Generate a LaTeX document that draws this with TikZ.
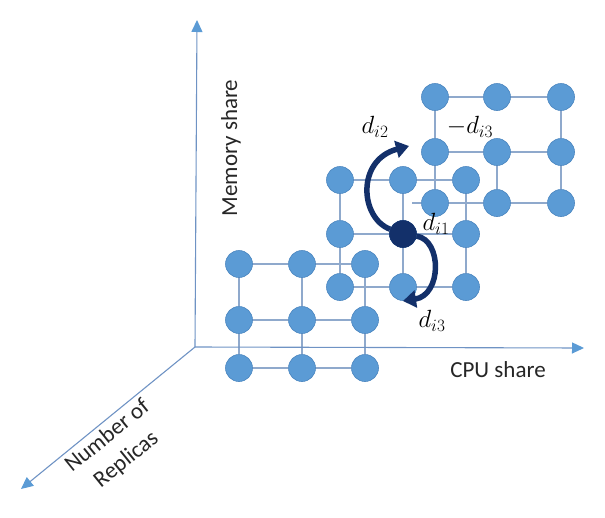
\documentclass[tikz,border=0pt]{standalone}
\usepackage{fontspec}
\setmainfont{Carlito}
\usetikzlibrary{arrows.meta,backgrounds}
\definecolor{nodeblue}{HTML}{5B9BD5}
\definecolor{nodeedge}{HTML}{4A85BF}
\definecolor{gridline}{HTML}{8FA9CC}
\definecolor{axisline}{HTML}{6F93C4}
\definecolor{navy}{HTML}{13306A}
\begin{document}
\begin{tikzpicture}[x=1pt,y=-1pt,
  ball/.style={circle,fill=nodeblue,draw=nodeedge,line width=0.6pt,minimum size=27pt,inner sep=0pt},
  darkball/.style={ball,fill=navy,draw=navy},
  gl/.style={draw=gridline,line width=1.2pt},
  axis/.style={draw=axisline,line width=1.1pt,-{Triangle[length=12pt,width=11pt,color=nodeblue]}},
  lbl/.style={font=\fontsize{23}{30}\selectfont,text=black!85,inner sep=1pt},
  mlbl/.style={font=\fontsize{27}{30}\selectfont,inner sep=1pt},
  curl/.style={draw=navy,line width=5.5pt,-{Triangle[length=13pt,width=17pt]}}]
\useasboundingbox (0,0) rectangle (605,517);

% axes
\coordinate (O) at (195,347);
\coordinate (ytip) at (197,20);
\coordinate (xtip) at (584,348);
\coordinate (ztip) at (21,489);
\draw[axis] (O) -- (ytip);
\draw[axis] (O) -- (xtip);
\draw[axis] (O) -- (ztip);

% grid A
\foreach \r/\y in {1/264,2/320,3/368}
  \foreach \c/\x in {1/239,2/302,3/365}
    \node[ball] (a\r\c) at (\x,\y) {};
% grid B
\foreach \r/\y in {1/180,2/234,3/287}
  \foreach \c/\x in {1/340,2/403,3/466}
    \node[ball] (b\r\c) at (\x,\y) {};
\node[darkball] (b22) at (403,234) {};
% grid C
\foreach \r/\y in {1/97,2/152,3/203}
  \foreach \c/\x in {1/435,2/497,3/561}
    \node[ball] (c\r\c) at (\x,\y) {};

\coordinate (cs) at (412,203);

\begin{scope}[on background layer]
  \foreach \g in {a,b} {
    \draw[gl] (\g11) -- (\g12) -- (\g13);
    \draw[gl] (\g21) -- (\g22) -- (\g23);
    \draw[gl] (\g31) -- (\g32) -- (\g33);
    \draw[gl] (\g11) -- (\g21) -- (\g31);
    \draw[gl] (\g12) -- (\g22) -- (\g32);
    \draw[gl] (\g13) -- (\g23) -- (\g33);
  }
  \draw[gl] (c11) -- (c12) -- (c13);
  \draw[gl] (c21) -- (c22) -- (c23);
  \draw[gl] (cs) -- (c31) -- (c32) -- (c33);
  \draw[gl] (c11) -- (c21) -- (c31);
  \draw[gl] (c22) -- (c32);
  \draw[gl] (c13) -- (c23) -- (c33);
\end{scope}

% curved arrows
\coordinate (t2) at (409,146);
\coordinate (t3) at (403,301);
\draw[curl] (b22) .. controls (360,218) and (356,160) .. (t2);
\draw[curl] (b22) .. controls (442,240) and (442,295) .. (t3);

% labels
\node[lbl,rotate=90] (mem) at (231,148) {Memory share};
\node[lbl] (cpu) at (498,370) {CPU share};
\node[lbl,rotate=39,align=center] (rep) at (117,448) {Number of\\Replicas};
\node[mlbl] (l2) at (375,127) {$d_{i2}$};
\node[mlbl] (l3n) at (470,127) {$-d_{i3}$};
\node[mlbl] (l1) at (436,224) {$d_{i1}$};
\node[mlbl] (l3) at (432,321) {$d_{i3}$};
\end{tikzpicture}
\end{document}
